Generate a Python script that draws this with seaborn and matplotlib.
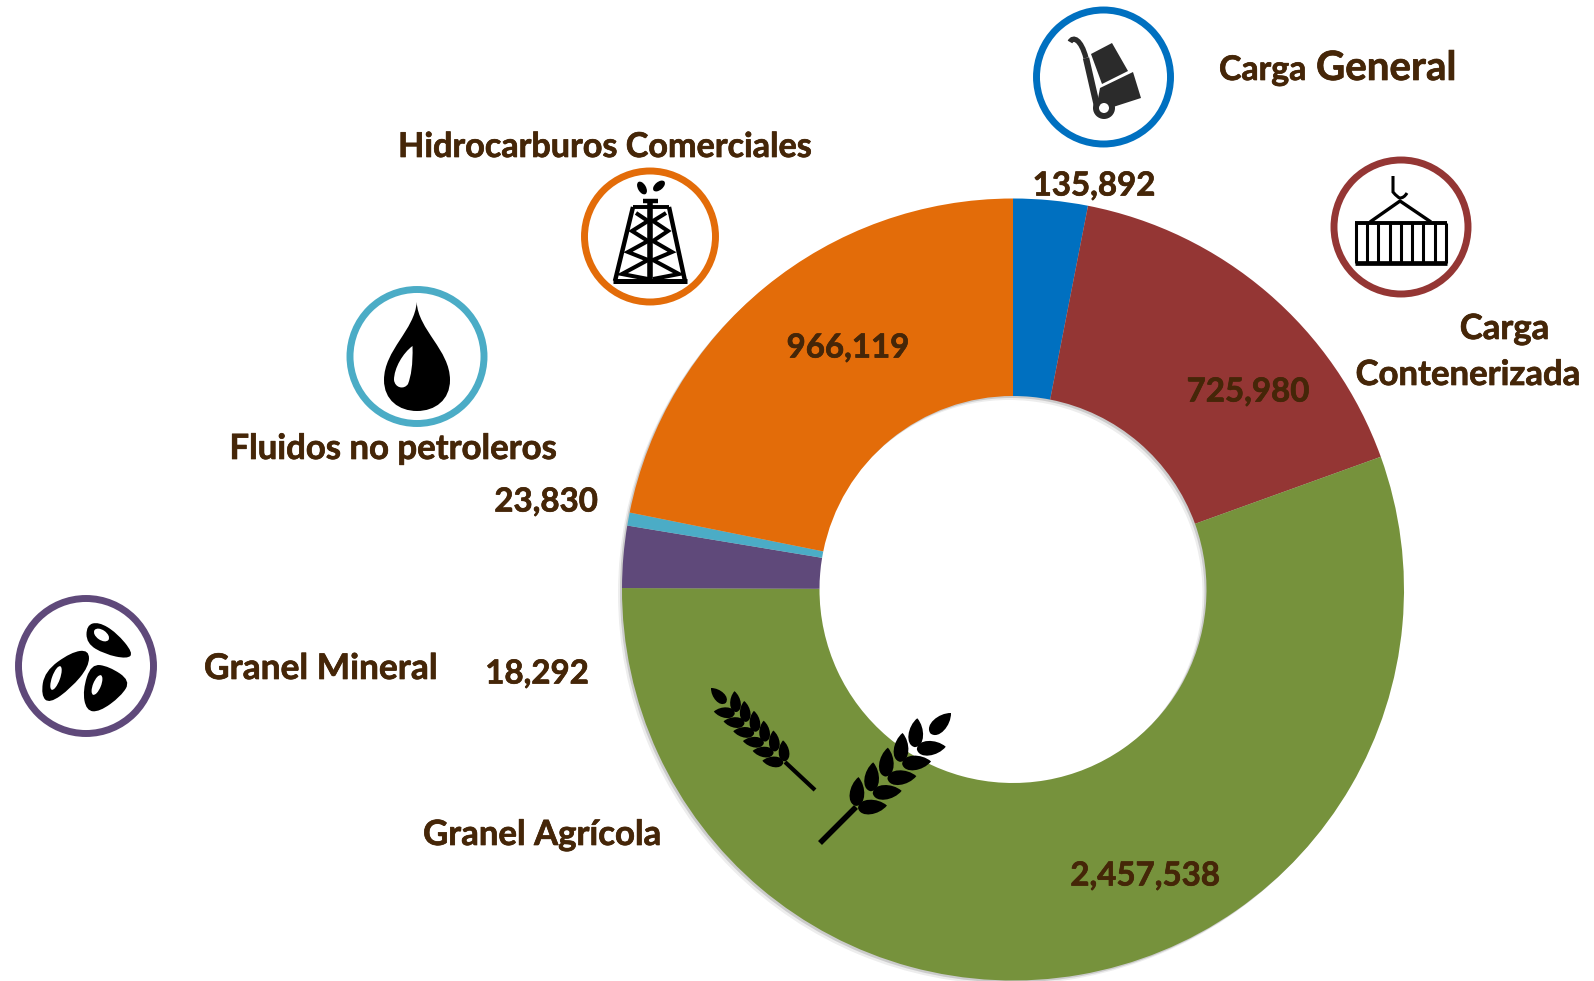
import numpy as np
import pandas as pd
import seaborn as sns
import matplotlib
matplotlib.use("Agg")
import matplotlib.pyplot as plt
import matplotlib.patheffects as pe
from matplotlib.patches import Circle, Ellipse, Polygon, PathPatch, Wedge
from matplotlib.path import Path

# datos del grafico
categorias = ["Carga General", "Carga Contenerizada", "Granel Agrícola",
              "Granel Mineral", "Fluidos no petroleros", "Hidrocarburos Comerciales"]
toneladas = [135892, 725980, 2457538, 18292, 23830, 966119]
tamanos = [135892, 725980, 2457538, 113000, 23830, 966119]
colores = ["#0070C0", "#943634", "#76923C", "#5F497A", "#4BACC6", "#E36C09"]

df = pd.DataFrame({"categoria": categorias, "toneladas": toneladas, "tamano": tamanos})
etiquetas = [f"{v:,}" for v in df["toneladas"]]

CAFE = "#452608"
W, H = 1594, 981

sns.set_theme(style="white")
plt.rcParams["font.family"] = ["Lato", "DejaVu Sans"]
plt.rcParams["font.weight"] = "bold"

fig = plt.figure(figsize=(W / 100, H / 100), dpi=100)
ax = fig.add_axes([0, 0, 1, 1])

# sombra suave debajo de la dona
for dx, dy, a in [(-2, -2, 0.14), (-4, -4, 0.07)]:
    ax.add_patch(Wedge((1013 + dx, H - 589.5 + dy), 391, 0, 360, width=197.5,
                       facecolor="black", alpha=a, linewidth=0, zorder=0))

ax.pie(df["tamano"], colors=sns.color_palette(colores), startangle=90, counterclock=False,
       center=(1013, H - 589.5), radius=391, wedgeprops={"width": 197.5, "linewidth": 0})
ax.set_xlim(0, W)
ax.set_ylim(0, H)
ax.set_aspect("auto")

# eje encima en pixeles para textos e iconos
ov = fig.add_axes([0, 0, 1, 1], facecolor="none")
ov.set_xlim(0, W)
ov.set_ylim(H, 0)
ov.axis("off")

# el bold de Lato queda mas fino que el original
grueso = [pe.withStroke(linewidth=0.5, foreground=CAFE)]


def texto(x, y, s, size=25, ha="center", va="center"):
    ov.text(x, y, s, ha=ha, va=va, fontsize=size, color=CAFE, fontweight="bold", path_effects=grueso)


texto(1094, 186, etiquetas[0], 23.8)
texto(1248, 392, etiquetas[1], 23.8)
texto(1145, 876, etiquetas[2], 23.8)
texto(537, 674, etiquetas[3], 23.8)
texto(546, 502, etiquetas[4], 23.8)
texto(848, 348, etiquetas[5], 23.8)

texto(1219, 80, "Carga", 24.4, ha="left", va="baseline")
texto(1316, 80, "General", 29, ha="left", va="baseline")
texto(1504.5, 329, "Carga")
texto(1468, 375, "Contenerizada")
texto(605, 147, "Hidrocarburos Comerciales", 24.6)
texto(393, 449, "Fluidos no petroleros")
texto(321, 669, "Granel Mineral", 25.4)
texto(542, 835, "Granel Agrícola")


def anillo(x, y, color, r=67):
    ov.add_patch(Circle((x, y), r, facecolor="white", edgecolor=color, linewidth=5))


def linea(xs, ys, lw=2.2, color="black", cap="butt"):
    ov.plot(xs, ys, color=color, lw=lw, solid_capstyle=cap, solid_joinstyle="miter")


anillo(1103.5, 77, colores[0])
anillo(1401, 227, colores[1])
anillo(650, 236.5, colores[5], r=65.5)
anillo(417, 356.5, colores[4])
anillo(86, 666, colores[3], r=67.5)

# carretilla
GRIS = "#2B2B2B"
ov.add_patch(PathPatch(Path([(1070, 42), (1073, 36), (1081, 39), (1086, 58)],
                            [Path.MOVETO, Path.CURVE4, Path.CURVE4, Path.CURVE4]),
                       fill=False, edgecolor=GRIS, lw=3.8))
linea([1086, 1097], [58, 106], lw=4.6, color=GRIS)
ov.add_patch(Polygon([(1091, 54), (1112, 43), (1128, 71), (1102, 84)], color=GRIS, lw=0))
ov.add_patch(Polygon([(1100, 88), (1133, 72), (1141, 98), (1110, 108), (1097, 104)], color=GRIS, lw=0))
ov.add_patch(Circle((1104, 108), 11, color=GRIS, lw=0))
ov.add_patch(Circle((1104, 108), 5, color="white", lw=0))

# contenedor
ov.add_patch(PathPatch(Path([(1393, 176), (1393, 192), (1398, 198), (1400, 198), (1404, 198), (1407, 193)],
                            [Path.MOVETO, Path.LINETO, Path.CURVE3, Path.CURVE3, Path.CURVE3, Path.CURVE3]),
                       fill=False, edgecolor="black", lw=2.2))
linea([1370, 1400, 1431], [222, 201, 222], lw=2.4)
linea([1355, 1447], [223, 223], lw=2.8)
linea([1355, 1447], [263, 263], lw=3.4)
for x in np.linspace(1356, 1446, 9):
    linea([x, x], [223, 263], lw=2.2)

# torre
linea([613, 687], [281, 281], lw=3.6)
linea([633, 615], [207, 281], lw=3.2)
linea([669, 685], [207, 281], lw=3.2)
linea([633, 669], [207, 207], lw=2.8)
linea([650.5, 650.5], [201, 281], lw=4)
linea([643, 658], [201, 201], lw=3.2)
linea([636, 648, 632, 648, 628, 648, 622, 648], [213, 221, 231, 241, 252, 260, 274, 279], lw=2.9)
linea([666, 653, 668, 653, 672, 653, 679, 653], [213, 221, 231, 241, 252, 260, 274, 279], lw=2.9)
ov.add_patch(Ellipse((642, 188), 8, 14, angle=-30, color="black", lw=0))
ov.add_patch(Ellipse((659, 186), 8, 14, angle=50, color="black", lw=0))

# gota
gota = Path([(416.7, 302), (418, 330), (450, 350), (450, 380), (450, 400), (435, 411), (417, 411),
             (399, 411), (384, 400), (384, 380), (384, 350), (415, 330), (416.7, 302)],
            [Path.MOVETO] + [Path.CURVE4] * 12)
ov.add_patch(PathPatch(gota, facecolor="black", lw=0))
brillo = Path([(412.5, 346), (413, 365), (411, 376), (408, 384), (404, 390), (395, 388), (394, 380),
               (394, 368), (403, 353), (412.5, 346)],
              [Path.MOVETO] + [Path.CURVE4] * 9)
ov.add_patch(PathPatch(brillo, facecolor="white", lw=0))


def suave(pts, k=1.2):
    # contorno cerrado redondeado, los puntos son de control
    p = np.array(pts, dtype=float)
    p = p.mean(axis=0) + (p - p.mean(axis=0)) * k
    sig = np.roll(p, -1, axis=0)
    med = (p + sig) / 2
    verts = [med[-1]]
    codes = [Path.MOVETO]
    for c, m in zip(p, med):
        verts += [c, m]
        codes += [Path.CURVE3, Path.CURVE3]
    return Path(verts, codes)


# semillas
semillas = [[(90, 628), (100, 625), (115, 634), (129, 651), (124, 656), (105, 652), (90, 643)],
            [(70, 656), (85, 654), (85, 668), (70, 686), (52, 699), (45, 692), (48, 672)],
            [(93, 668), (108, 670), (126, 682), (118, 695), (100, 708), (89, 707), (86, 690)]]
brillos = [(101.5, 635, 17, 10, 35), (56, 678, 8, 25, 20), (97, 685, 8, 21, 22)]
for pts, (bx, by, bw, bh, ang) in zip(semillas, brillos):
    ov.add_patch(PathPatch(suave(pts), facecolor="black", lw=0))
    ov.add_patch(Ellipse((bx, by), bw, bh, angle=ang, color="white", lw=0))


def grano(x, y, ang, largo, ancho):
    # hoja con base en (x, y), ang en grados sobre la horizontal
    pts = [(0, 0), (largo * 0.05, ancho * 0.8), (largo * 0.7, ancho * 0.7), (largo, 0),
           (largo * 0.7, -ancho * 0.7), (largo * 0.05, -ancho * 0.8), (0, 0)]
    a = np.radians(ang)
    c, s = np.cos(a), np.sin(a)
    pts = [(x + px * c + py * s, y - px * s + py * c) for px, py in pts]
    ov.add_patch(PathPatch(Path(pts, [Path.MOVETO] + [Path.CURVE4] * 6), facecolor="black", lw=0, zorder=5))


def espiga(x0, y0, x1, y1, n, largo, ancho, sep, abre=40):
    # (x0, y0) base de la cabeza, (x1, y1) punta
    eje = np.degrees(np.arctan2(y0 - y1, x1 - x0))
    u = np.array([x1 - x0, y1 - y0]) / np.hypot(x1 - x0, y1 - y0)
    nor = np.array([-u[1], u[0]])
    tramo = np.hypot(x1 - x0, y1 - y0) - largo
    for i in range(n):
        base = np.array([x0, y0]) + u * tramo * i / n
        for lado in (-1, 1):
            b = base + nor * lado * sep
            grano(b[0], b[1], eje - lado * abre, largo, ancho)
    grano(x1 - u[0] * largo, y1 - u[1] * largo, eje, largo, ancho)


# espiga grande
linea([820, 856], [843, 807], lw=4, cap="butt")
espiga(857, 807, 951, 713, 5, 29, 13, 1.5)
# espiga chica
linea([785, 815], [762, 790], lw=3, cap="butt")
espiga(784, 762, 711, 688, 6, 21, 9.5, 1)

fig.savefig("out.png", dpi=100, facecolor="white")
